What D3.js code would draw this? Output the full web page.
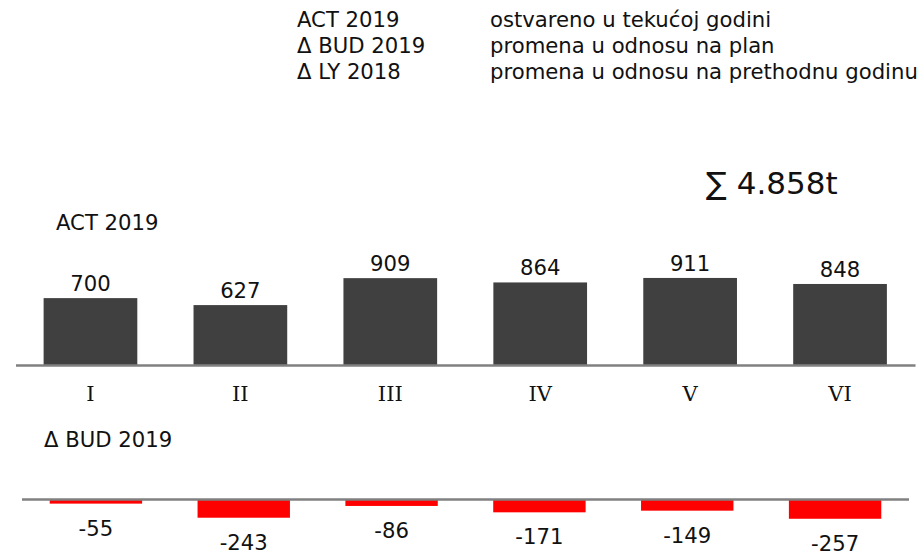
<html>

<head>
  <meta charset="utf-8">
  <title>ACT 2019 vs BUD 2019</title>
</head>
<style>
  body { margin: 0; background: #fff; }
  text { font-family: "DejaVu Sans", Verdana, sans-serif; fill: #111; }
</style>

<body>
  <div id="chart"></div>
</body>
<script src="https://d3js.org/d3.v7.min.js"></script>
<script>

  const width = 924
  const height = 552

  // podaci
  const months = ["I", "II", "III", "IV", "V", "VI"]
  const act2019 = [700, 627, 909, 864, 911, 848]
  const deltaBud2019 = [-55, -243, -86, -171, -149, -257]
  const legendKeys = ["ACT 2019", "\u0394 BUD 2019", "\u0394 LY 2018"]
  const legendText = ["ostvareno u tekućoj godini", "promena u odnosu na plan", "promena u odnosu na prethodnu godinu"]
  const totalLabel = "\u2211 4.858t"

  const svg = d3.select("#chart")
    .append("svg")
    .attr("width", width)
    .attr("height", height)

  // legenda
  const legend = svg.append("g")
  legend.selectAll(".key")
    .data(legendKeys)
    .enter().append("text")
    .attr("x", 297)
    .attr("y", (d, i) => 27 + i * 26)
    .style("font-size", "21.2px")
    .text(d => d)
  legend.selectAll(".desc")
    .data(legendText)
    .enter().append("text")
    .attr("x", 490)
    .attr("y", (d, i) => 27 + i * 26)
    .style("font-size", "21.2px")
    .text(d => d)

  svg.append("text")
    .attr("x", 706)
    .attr("y", 194)
    .style("font-size", "31px")
    .text(totalLabel)

  // gornji grafikon - ACT
  const base1 = 365
  const x1 = d3.scaleBand().domain(months).range([15.5, 915]).paddingInner(0.375).paddingOuter(0.1875)
  const y1 = d3.scaleLinear().domain([0, 1000]).range([base1, base1 - 95.55])

  svg.append("text")
    .attr("x", 56)
    .attr("y", 230)
    .style("font-size", "21.2px")
    .text(legendKeys[0])

  svg.append("g")
    .selectAll("rect")
    .data(act2019)
    .enter().append("rect")
    .attr("x", (d, i) => x1(months[i]))
    .attr("y", d => y1(d))
    .attr("width", x1.bandwidth())
    .attr("height", d => base1 - y1(d))
    .attr("fill", "#404040")

  svg.append("g")
    .selectAll("text")
    .data(act2019)
    .enter().append("text")
    .attr("x", (d, i) => x1(months[i]) + x1.bandwidth() / 2)
    .attr("y", d => y1(d) - 7)
    .attr("text-anchor", "middle")
    .style("font-size", "21.2px")
    .text(d => d)

  const axis1 = svg.append("g")
    .attr("transform", `translate(0,${base1})`)
    .call(d3.axisBottom(x1).tickSize(0).tickSizeOuter(0).tickPadding(21))
  axis1.select(".domain").attr("stroke", "#808080").attr("stroke-width", 2.5)
  axis1.selectAll("text")
    .style("font-family", "'DejaVu Serif', serif")
    .style("font-size", "21px")
    .attr("fill", "#111")

  // donji grafikon - delta BUD
  const base2 = 499.5
  const x2 = d3.scaleBand().domain(months).range([22, 909]).paddingInner(0.375).paddingOuter(0.1875)
  const y2 = d3.scaleLinear().domain([0, -1000]).range([base2, base2 + 75])

  svg.append("text")
    .attr("x", 44)
    .attr("y", 447)
    .style("font-size", "21.2px")
    .text(legendKeys[1])

  svg.append("g")
    .selectAll("rect")
    .data(deltaBud2019)
    .enter().append("rect")
    .attr("x", (d, i) => x2(months[i]))
    .attr("y", base2)
    .attr("width", x2.bandwidth())
    .attr("height", d => y2(d) - base2)
    .attr("fill", "#ff0000")

  svg.append("g")
    .selectAll("text")
    .data(deltaBud2019)
    .enter().append("text")
    .attr("x", (d, i) => x2(months[i]) + x2.bandwidth() / 2)
    .attr("y", d => y2(d) + 32)
    .attr("text-anchor", "middle")
    .style("font-size", "21.2px")
    .text(d => d)

  svg.append("line")
    .attr("x1", x2.range()[0])
    .attr("x2", x2.range()[1])
    .attr("y1", base2)
    .attr("y2", base2)
    .attr("stroke", "#808080")
    .attr("stroke-width", 2.5)

</script>

</html>
